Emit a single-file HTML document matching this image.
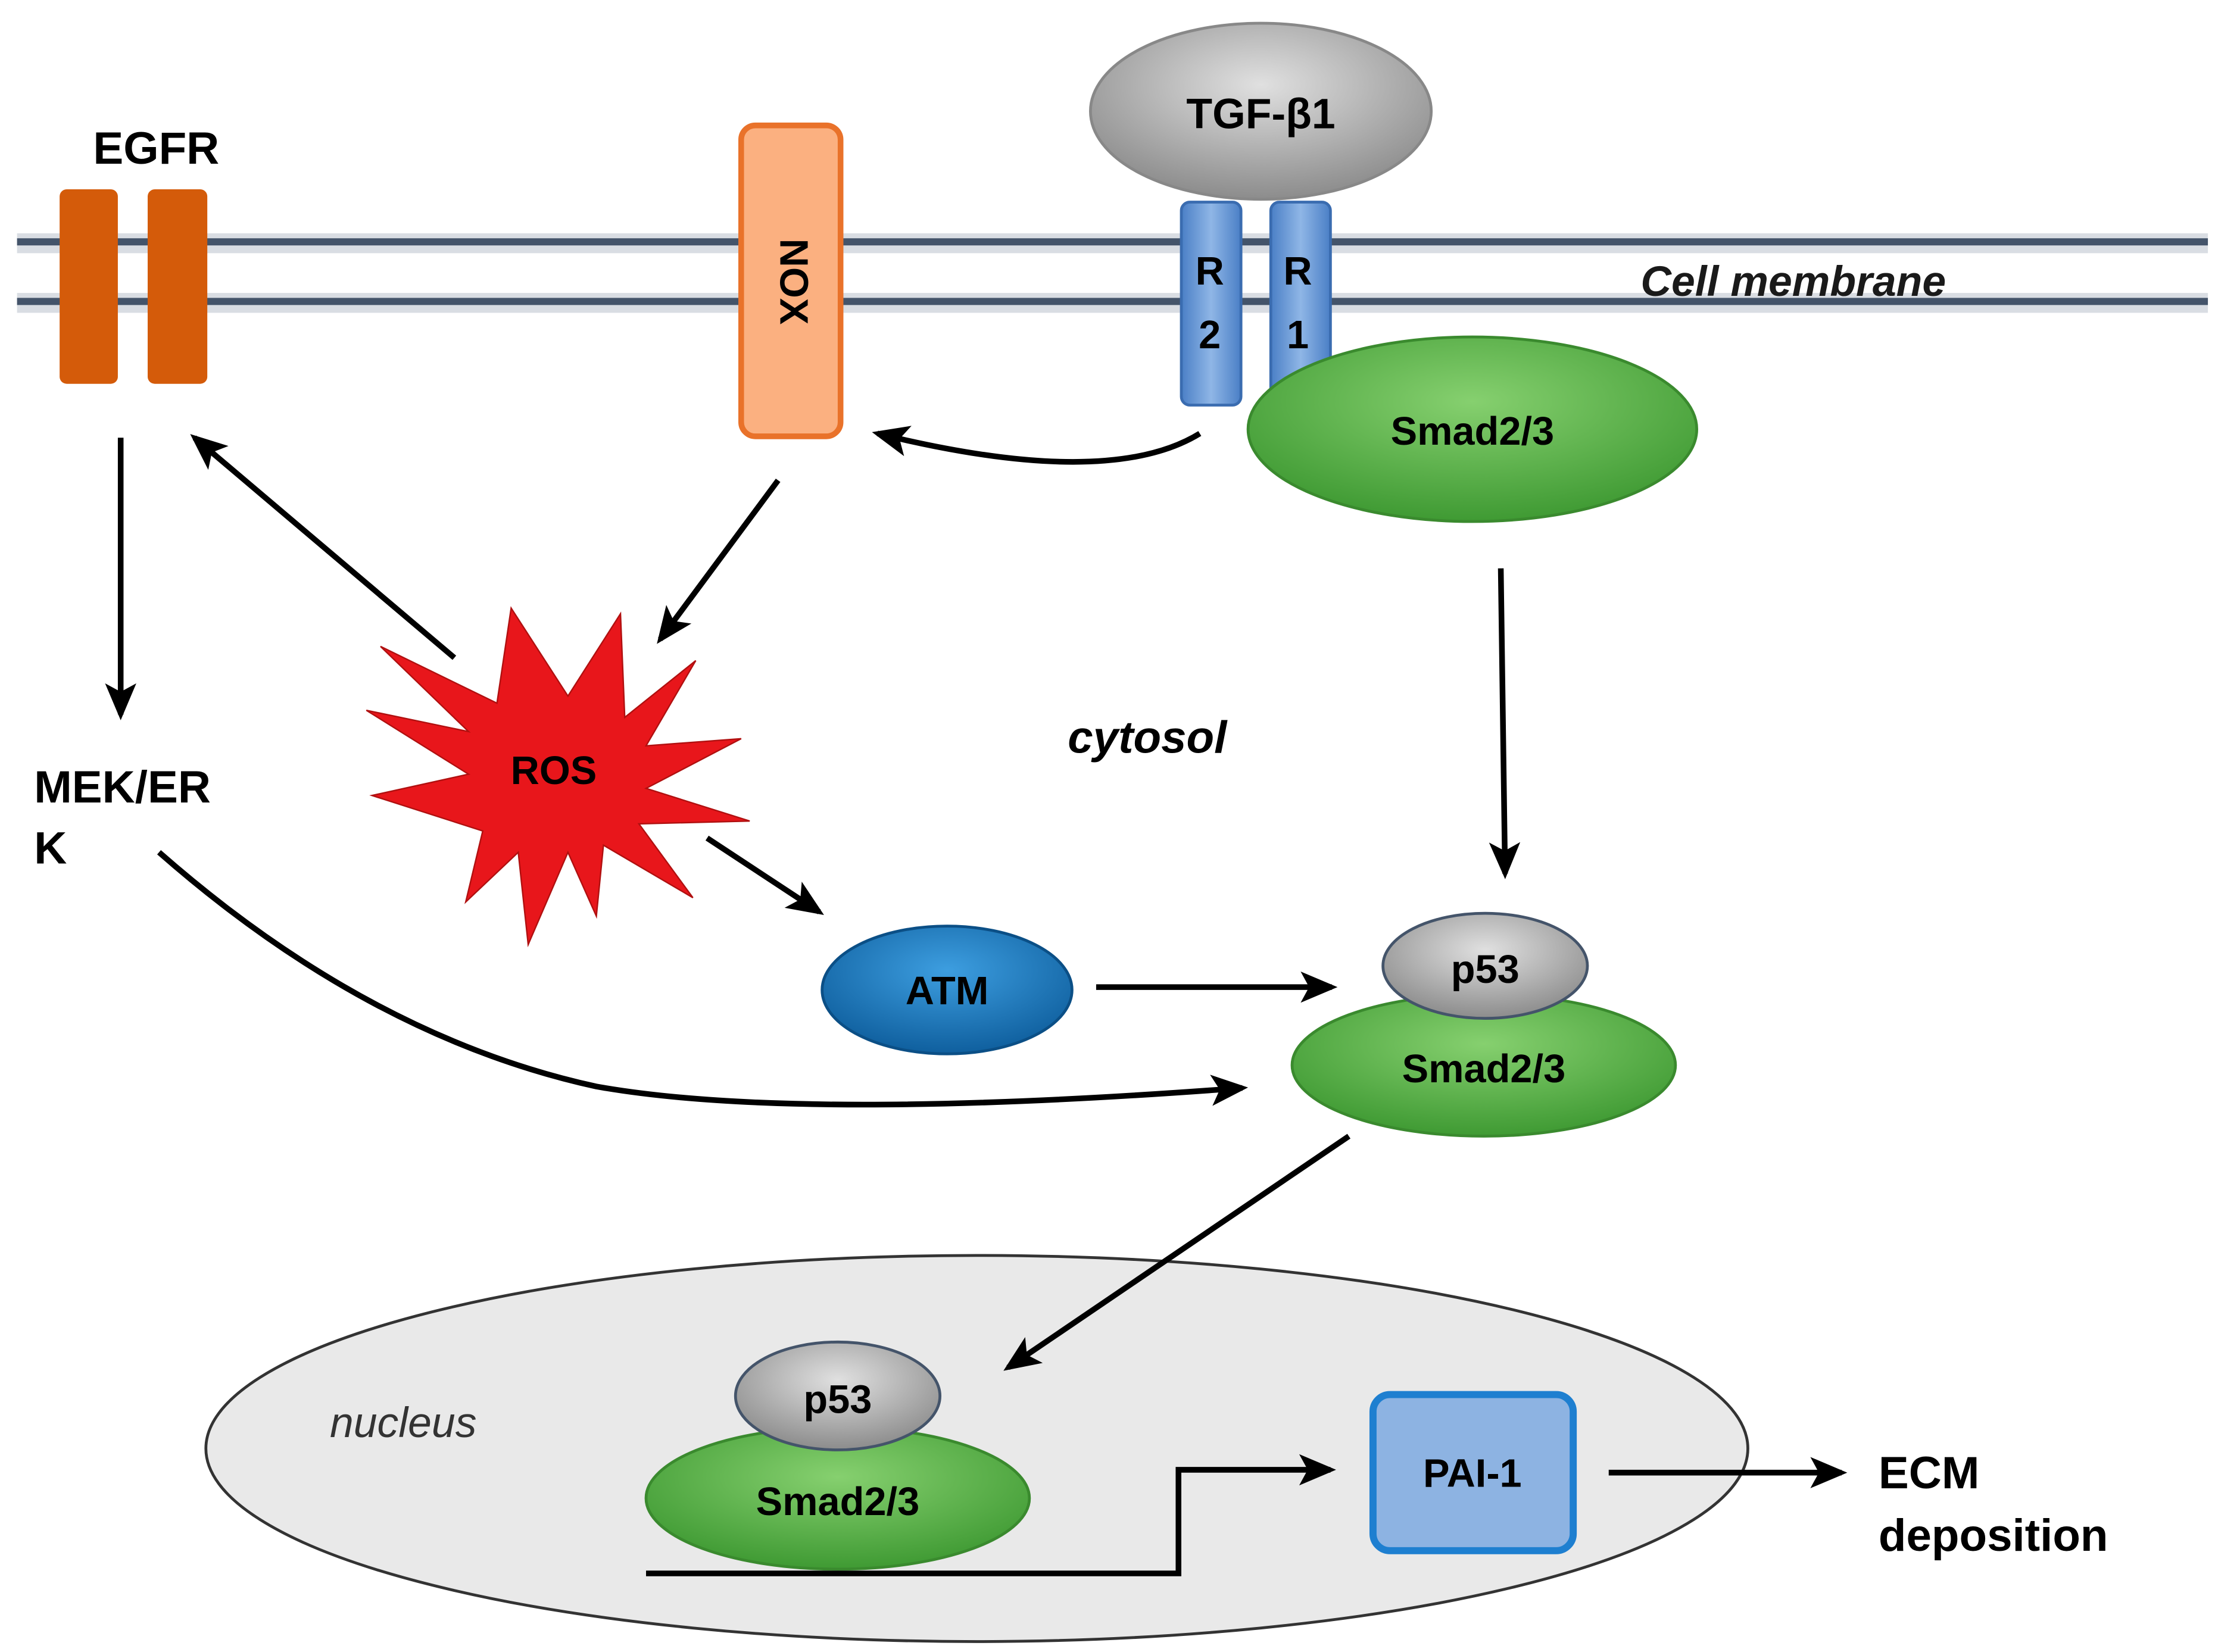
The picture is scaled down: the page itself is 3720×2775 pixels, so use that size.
<!DOCTYPE html>
<html><head><meta charset="utf-8"><style>html,body{margin:0;padding:0;background:#fff}svg{display:block}</style></head><body>
<svg width="3720" height="2775" viewBox="0 0 1560 1163" xmlns="http://www.w3.org/2000/svg" font-family="Liberation Sans, DejaVu Sans, sans-serif" font-weight="bold">
<defs>
<radialGradient id="gg" cx="50%" cy="35%" r="65%"><stop offset="0" stop-color="#e0e0e0"/><stop offset="1" stop-color="#8c8c8c"/></radialGradient>
<radialGradient id="gr" cx="50%" cy="35%" r="65%"><stop offset="0" stop-color="#86d06f"/><stop offset="1" stop-color="#3f9a33"/></radialGradient>
<radialGradient id="bl" cx="50%" cy="35%" r="65%"><stop offset="0" stop-color="#3d9ee0"/><stop offset="1" stop-color="#0f5f9e"/></radialGradient>
<linearGradient id="rb" x1="0" x2="1"><stop offset="0" stop-color="#4a7fc6"/><stop offset="0.5" stop-color="#8fb6e6"/><stop offset="1" stop-color="#4a7fc6"/></linearGradient>
<marker id="A" markerWidth="26" markerHeight="22" refX="22" refY="11" orient="auto" markerUnits="userSpaceOnUse"><path d="M0,0 L26,11 L0,22 L6,11 Z" fill="#000"/></marker>
</defs>
<!-- membrane -->
<rect x="12" y="164" width="1543" height="14" fill="#d9dde3"/>
<rect x="12" y="206" width="1543" height="14" fill="#d9dde3"/>
<line x1="12" y1="170" x2="1555" y2="170" stroke="#44546a" stroke-width="5"/>
<line x1="12" y1="212" x2="1555" y2="212" stroke="#44546a" stroke-width="5"/>
<text x="1263" y="208" font-size="30" font-style="italic" text-anchor="middle" fill="#1a1a1a">Cell membrane</text>
<!-- EGFR -->
<text x="110" y="115" font-size="32" text-anchor="middle">EGFR</text>
<rect x="42" y="133" width="41" height="137" rx="5" fill="#d45b0a"/>
<rect x="104" y="133" width="42" height="137" rx="5" fill="#d45b0a"/>
<!-- NOX -->
<rect x="522" y="88" width="70" height="219" rx="10" fill="#fbb080" stroke="#e9722a" stroke-width="4"/>
<text x="557" y="198" font-size="28" text-anchor="middle" dominant-baseline="middle" transform="rotate(90 557 198)">NOX</text>
<!-- TGF -->
<ellipse cx="888" cy="78" rx="120" ry="62" fill="url(#gg)" stroke="#888" stroke-width="2"/>
<text x="888" y="90" font-size="30" text-anchor="middle">TGF-β1</text>
<rect x="832" y="142" width="42" height="143" rx="6" fill="url(#rb)" stroke="#3a6cb0" stroke-width="2"/>
<rect x="895" y="142" width="42" height="143" rx="6" fill="url(#rb)" stroke="#3a6cb0" stroke-width="2"/>
<text x="852" y="200" font-size="28" text-anchor="middle">R</text>
<text x="852" y="245" font-size="28" text-anchor="middle">2</text>
<text x="914" y="200" font-size="28" text-anchor="middle">R</text>
<text x="914" y="245" font-size="28" text-anchor="middle">1</text>
<ellipse cx="1037" cy="302" rx="158" ry="65" fill="url(#gr)" stroke="#3a8a2e" stroke-width="2"/>
<text x="1037" y="313" font-size="28" text-anchor="middle">Smad2/3</text>
<!-- nucleus (drawn first) -->
<ellipse cx="688" cy="1020" rx="543" ry="136" fill="#e9e9e9" stroke="#333" stroke-width="2"/>
<!-- arrows -->
<g stroke="#000" stroke-width="4" fill="none">
<path d="M845 305 Q780 345 618 305" marker-end="url(#A)"/>
<line x1="85" y1="308" x2="85" y2="503" marker-end="url(#A)"/>
<line x1="320" y1="463" x2="137" y2="308" marker-end="url(#A)"/>
<line x1="548" y1="338" x2="465" y2="450" marker-end="url(#A)"/>
<line x1="1057" y1="400" x2="1060" y2="615" marker-end="url(#A)"/>
<line x1="498" y1="590" x2="577" y2="642" marker-end="url(#A)"/>
<line x1="772" y1="695" x2="938" y2="695" marker-end="url(#A)"/>
<path d="M112 600 Q260 730 420 765 Q560 790 875 766" marker-end="url(#A)"/>
<line x1="950" y1="800" x2="710" y2="963" marker-end="url(#A)"/>
</g>
<!-- ROS -->
<polygon fill="#e8161b" stroke="#b01010" stroke-width="1" points="360,428 400,490 437,432 440,505 490,465 455,525 522,520 455,555 528,578 450,580 488,632 425,595 420,645 400,600 372,665 365,600 328,635 340,585 262,560 330,545 258,500 330,515 268,455 350,495"/>
<text x="390" y="552" font-size="28" text-anchor="middle">ROS</text>
<text x="808" y="530" font-size="32" font-style="italic" text-anchor="middle">cytosol</text>
<text x="24" y="565" font-size="32">MEK/ER</text>
<text x="24" y="608" font-size="32">K</text>
<!-- ATM -->
<ellipse cx="667" cy="697" rx="88" ry="45" fill="url(#bl)" stroke="#0b4f86" stroke-width="2"/>
<text x="667" y="707" font-size="28" text-anchor="middle">ATM</text>
<!-- complex cytosol -->
<ellipse cx="1045" cy="750" rx="135" ry="50" fill="url(#gr)" stroke="#3a8a2e" stroke-width="2"/>
<text x="1045" y="762" font-size="28" text-anchor="middle">Smad2/3</text>
<ellipse cx="1046" cy="680" rx="72" ry="37" fill="url(#gg)" stroke="#44546a" stroke-width="2"/>
<text x="1046" y="692" font-size="28" text-anchor="middle">p53</text>
<!-- nucleus contents -->
<text x="284" y="1012" font-size="30" font-style="italic" font-weight="normal" text-anchor="middle" fill="#333">nucleus</text>
<ellipse cx="590" cy="1055" rx="135" ry="50" fill="url(#gr)" stroke="#3a8a2e" stroke-width="2"/>
<text x="590" y="1067" font-size="28" text-anchor="middle">Smad2/3</text>
<ellipse cx="590" cy="983" rx="72" ry="38" fill="url(#gg)" stroke="#44546a" stroke-width="2"/>
<text x="590" y="995" font-size="28" text-anchor="middle">p53</text>
<rect x="967" y="982" width="141" height="110" rx="12" fill="#8db3e2" stroke="#1e7fd0" stroke-width="5"/>
<text x="1037" y="1047" font-size="28" text-anchor="middle">PAI-1</text>
<g stroke="#000" stroke-width="4" fill="none">
<path d="M455 1108 L830 1108 L830 1035 L937 1035" marker-end="url(#A)"/>
<line x1="1133" y1="1037" x2="1297" y2="1037" marker-end="url(#A)"/>
</g>
<text x="1323" y="1048" font-size="32">ECM</text>
<text x="1323" y="1092" font-size="32">deposition</text>
</svg>
</body></html>
